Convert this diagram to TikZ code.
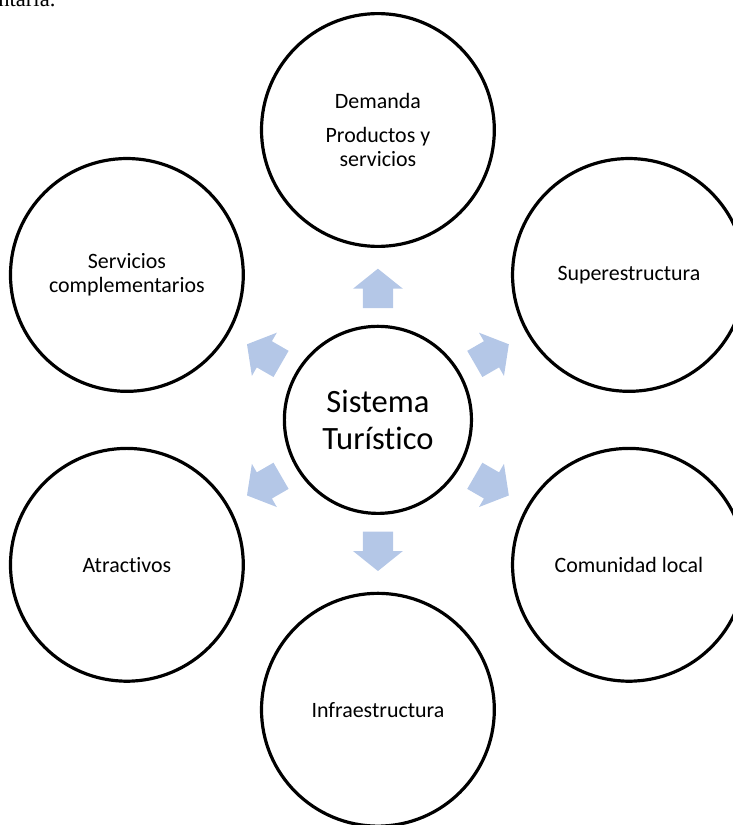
\documentclass[tikz,border=0pt]{standalone}
\usepackage{fontspec}
\setmainfont{Carlito}[Ligatures=NoCommon]
\newfontfamily\prevfont{Liberation Serif}
\definecolor{arrowblue}{RGB}{180,199,231}
\tikzset{
  ring/.style={circle, draw, line width=2.4pt, minimum size=6.16cm, inner sep=0pt, align=center, font=\fontsize{16.5}{18}\selectfont},
  hubring/.style={circle, draw, line width=2.4pt, minimum size=4.95cm, inner sep=0pt, align=center, font=\fontsize{24.5}{28.5}\selectfont},
  blockarrow/.style={fill=arrowblue}
}

\begin{document}
\begin{tikzpicture}
\useasboundingbox (-10.00,-10.72) rectangle (9.39,11.11);
\clip (-10.00,-10.72) rectangle (9.39,11.11);
\node[anchor=base west, inner sep=0pt, font=\prevfont\fontsize{17}{20}\selectfont] (prev) at (-10.05,10.93) {ntaria.};
\node[hubring] (hub) at (0,0) {Sistema\\Turístico};
\node[ring] (demanda) at (90:7.67cm) {Demanda\\[7pt]Productos y\\servicios};
\node[ring] (superes) at (30:7.67cm) {Superestructura};
\node[ring] (comunidad) at (-30:7.67cm) {Comunidad local};
\node[ring] (infra) at (-90:7.67cm) {Infraestructura};
\node[ring] (atract) at (210:7.67cm) {Atractivos};
\node[ring] (servicios) at (150:7.67cm) {Servicios\\complementarios};
\fill[blockarrow, rotate=90] (2.96,-0.40) -- (3.47,-0.40) -- (3.47,-0.66) -- (4.00,0) -- (3.47,0.66) -- (3.47,0.40) -- (2.96,0.40) -- cycle;
\fill[blockarrow, rotate=30] (2.96,-0.40) -- (3.47,-0.40) -- (3.47,-0.66) -- (4.00,0) -- (3.47,0.66) -- (3.47,0.40) -- (2.96,0.40) -- cycle;
\fill[blockarrow, rotate=-30] (2.96,-0.40) -- (3.47,-0.40) -- (3.47,-0.66) -- (4.00,0) -- (3.47,0.66) -- (3.47,0.40) -- (2.96,0.40) -- cycle;
\fill[blockarrow, rotate=-90] (2.96,-0.40) -- (3.47,-0.40) -- (3.47,-0.66) -- (4.00,0) -- (3.47,0.66) -- (3.47,0.40) -- (2.96,0.40) -- cycle;
\fill[blockarrow, rotate=210] (2.96,-0.40) -- (3.47,-0.40) -- (3.47,-0.66) -- (4.00,0) -- (3.47,0.66) -- (3.47,0.40) -- (2.96,0.40) -- cycle;
\fill[blockarrow, rotate=150] (2.96,-0.40) -- (3.47,-0.40) -- (3.47,-0.66) -- (4.00,0) -- (3.47,0.66) -- (3.47,0.40) -- (2.96,0.40) -- cycle;
\end{tikzpicture}
\end{document}
